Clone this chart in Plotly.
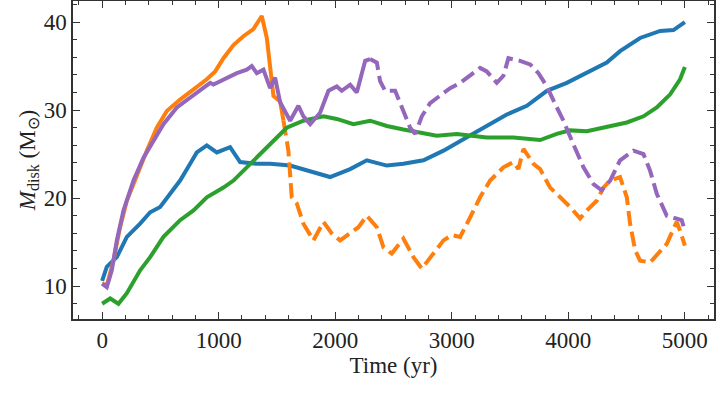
import plotly.graph_objects as go

# ---- data ----
blue_t = [0, 40, 126, 212, 326, 412, 498, 583, 669, 755, 812, 898, 984, 1098, 1184, 1327, 1441, 1613,
          1785, 1956, 2128, 2271, 2443, 2585, 2757, 2929, 3100, 3243, 3472, 3644, 3816, 3987, 4159,
          4330, 4444, 4616, 4788, 4902, 5000]
blue_m = [10.6, 12.2, 13.3, 15.6, 17.1, 18.4, 19.0, 20.5, 22.0, 23.9, 25.2, 26.0, 25.2, 25.8, 24.1, 23.9, 23.9, 23.7,
          23.1, 22.4, 23.3, 24.3, 23.7, 23.9, 24.3, 25.4, 26.7, 27.8, 29.5, 30.5, 32.2, 33.1, 34.2,
          35.4, 36.7, 38.2, 39.0, 39.1, 40.0]

green_t = [0, 69, 140, 212, 326, 412, 526, 669, 784, 898, 1041, 1127, 1241, 1356, 1470, 1584, 1727, 1899,
           2013, 2156, 2299, 2443, 2585, 2728, 2871, 3043, 3157, 3300, 3529, 3758, 3901, 4015, 4159, 4330,
           4502, 4645, 4759, 4874, 4959, 5000]
green_m = [8.0, 8.6, 8.0, 9.2, 11.8, 13.3, 15.6, 17.5, 18.6, 20.1, 21.2, 22.0, 23.5, 25.0, 26.5, 28.0, 28.8, 29.3,
           29.0, 28.4, 28.8, 28.2, 27.8, 27.5, 27.1, 27.3, 27.1, 26.9, 26.9, 26.6, 27.3, 27.7, 27.6, 28.1,
           28.6, 29.3, 30.3, 31.8, 33.5, 34.9]

orange_t = [0, 40, 97, 154, 212, 298, 384, 469, 555, 669, 784, 898, 970, 1041, 1127, 1212, 1298, 1370,
            1413, 1441, 1470, 1527, 1556,
            1598, 1627, 1670, 1727, 1813, 1899, 1970, 2042, 2128, 2199, 2271, 2357, 2414, 2485, 2585,
            2671, 2743, 2843, 2929, 3000, 3072, 3157, 3243, 3329, 3443, 3529, 3572, 3615, 3701, 3758,
            3844, 3930, 4015, 4101, 4159, 4244, 4301, 4359, 4444, 4502, 4530, 4573, 4616, 4702, 4788,
            4845, 4902, 4930, 4959, 5000]
orange_m = [10.3, 10.1, 12.9, 16.7, 19.7, 22.7, 25.4, 28.0, 29.9, 31.2, 32.4, 33.5, 34.4, 35.9, 37.4, 38.4, 39.2, 40.7,
            38.2, 34.8, 31.6, 31.0, 28.8,
            25.4, 20.1, 19.4, 17.1, 15.2, 17.3, 16.0, 15.2, 16.0, 16.7, 18.0, 16.7, 14.4, 13.7, 15.4,
            13.3, 12.0, 13.7, 15.2, 15.8, 15.6, 17.8, 20.1, 22.0, 23.5, 24.1, 23.3, 25.6, 23.9, 23.3,
            21.2, 20.1, 19.0, 17.7, 18.6, 19.7, 21.2, 22.0, 22.4, 20.1, 17.1, 14.1, 12.9, 12.7, 13.9,
            14.8, 16.5, 17.3, 16.3, 14.6]
orange_dash_from = 1556  # orange is solid before this time, dashed after

purple_t = [0, 40, 83, 126, 183, 269, 355, 441, 526, 641, 755, 870, 927, 955, 1041, 1156, 1241, 1284, 1327,
            1384, 1441, 1484, 1527, 1613, 1684, 1727, 1785, 1870, 1942, 2013, 2056, 2128, 2185, 2257, 2299,
            2357, 2385, 2428, 2514, 2585, 2643, 2686, 2743, 2814, 2900, 2986, 3072, 3157, 3243, 3300,
            3386, 3443, 3486, 3586, 3672, 3744, 3816, 3887, 3958, 4044, 4130, 4216, 4287, 4359, 4444,
            4559, 4645, 4702, 4759, 4845, 4930, 4973, 5000]
purple_m = [10.3, 9.9, 11.8, 15.2, 18.6, 22.0, 24.6, 26.5, 28.4, 30.3, 31.4, 32.5, 33.1, 32.9, 33.5, 34.2, 34.6, 35.0, 34.2,
            34.6, 32.5, 33.7, 30.9, 28.8, 30.5, 29.3, 28.4, 29.7, 32.2, 32.7, 32.2, 32.9, 32.0, 35.6, 35.8,
            35.4, 33.3, 32.2, 32.2, 29.9, 28.0, 27.3, 29.3, 30.8, 31.6, 32.5, 33.1, 33.9, 34.8, 34.4,
            33.1, 33.9, 35.9, 35.6, 35.2, 34.2, 32.7, 30.7, 28.8, 26.1, 23.5, 21.6, 20.9, 22.0, 24.3,
            25.4, 25.0, 23.1, 20.5, 18.0, 17.7, 17.5, 16.3]
purple_dash_from = 2299  # purple is solid before this time, dashed after

x_ticks = [0, 1000, 2000, 3000, 4000, 5000]
y_ticks = [10, 20, 30, 40]

BLUE, ORANGE, GREEN, PURPLE = "#1f77b4", "#ff7f0e", "#2ca02c", "#9467bd"
LW = 4
DASH = "15px,6px"
XR = [-250, 5250]
YR = [6.27, 42.4]

def split(ts, ms, t0):
    i = ts.index(t0)
    return (ts[:i + 1], ms[:i + 1]), (ts[i:], ms[i:])

fig = go.Figure()
fig.add_trace(go.Scatter(x=blue_t, y=blue_m, mode="lines", line=dict(color=BLUE, width=LW)))
(os_t, os_m), (od_t, od_m) = split(orange_t, orange_m, orange_dash_from)
fig.add_trace(go.Scatter(x=od_t, y=od_m, mode="lines", line=dict(color=ORANGE, width=LW, dash=DASH)))
fig.add_trace(go.Scatter(x=os_t, y=os_m, mode="lines", line=dict(color=ORANGE, width=LW)))
fig.add_trace(go.Scatter(x=green_t, y=green_m, mode="lines", line=dict(color=GREEN, width=LW)))
(ps_t, ps_m), (pd_t, pd_m) = split(purple_t, purple_m, purple_dash_from)
fig.add_trace(go.Scatter(x=pd_t, y=pd_m, mode="lines", line=dict(color=PURPLE, width=LW, dash=DASH)))
fig.add_trace(go.Scatter(x=ps_t, y=ps_m, mode="lines", line=dict(color=PURPLE, width=LW)))

font = dict(family="Liberation Serif", size=23, color="#222")
tick_common = dict(ticks="inside", ticklen=7, tickwidth=1.3, tickcolor="#333",
                   showgrid=False, zeroline=False, tickfont=font)
minor_x = dict(ticks="inside", ticklen=4, tickwidth=1.1, tickcolor="#333", dtick=200, tick0=0, showgrid=False)
minor_y = dict(ticks="inside", ticklen=4, tickwidth=1.1, tickcolor="#333", dtick=2, tick0=0, showgrid=False)

fig.update_layout(
    width=720, height=393, showlegend=False,
    margin=dict(l=73, r=6, t=1, b=74, autoexpand=False),
    plot_bgcolor="white", paper_bgcolor="white", font=font,
    xaxis=dict(range=XR, tickvals=x_ticks, minor=minor_x, showline=True, linecolor="#333",
               linewidth=1.5, mirror=True,
               title=dict(text="Time (yr)", font=font, standoff=4), **tick_common),
    yaxis=dict(range=YR, tickvals=y_ticks, minor=minor_y, showline=True, linecolor="#333",
               linewidth=1.5, mirror=True,
               title=dict(text="<i>M</i><sub>disk</sub> (M<sub>⊙</sub>)", font=font, standoff=2),
               **tick_common),
    xaxis2=dict(range=XR, tickvals=x_ticks, minor=minor_x, overlaying="x", side="top",
                showticklabels=False, showline=False, anchor="y", **tick_common),
    yaxis2=dict(range=YR, tickvals=y_ticks, minor=minor_y, overlaying="y", side="right",
                showticklabels=False, showline=False, anchor="x", **tick_common),
)
# invisible helper trace so the mirrored tick axes are drawn
fig.add_trace(go.Scatter(x=[None], y=[None], xaxis="x2", yaxis="y2", mode="lines",
                         hoverinfo="skip", showlegend=False))

fig.write_html("out.html", config={"displayModeBar": False},
               post_script="document.body.style.margin='0';document.body.style.padding='0';")
